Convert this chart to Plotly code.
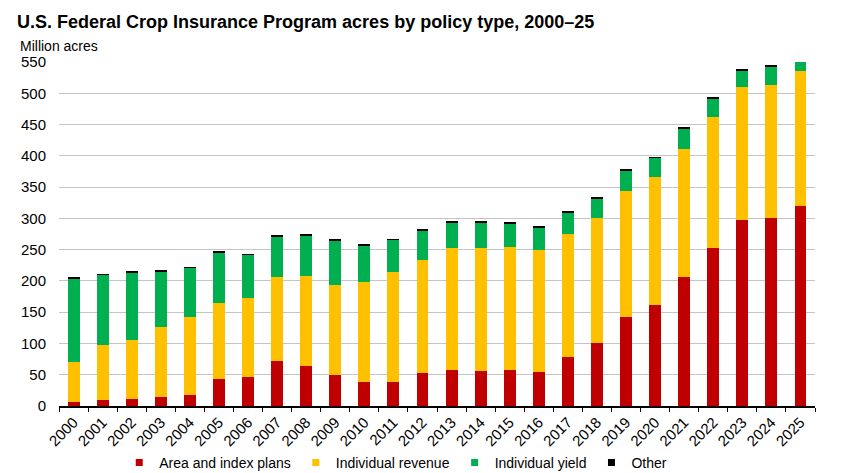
import plotly.graph_objects as go

years = [str(y) for y in range(2000, 2026)]

area_index = [6, 9, 11, 14, 18, 43, 46, 72, 64.5, 49, 38, 39, 53, 57.5, 56, 57.5, 55, 78,
              101, 142, 162, 206, 253, 297, 301, 320]
indiv_revenue = [65, 88, 94, 113, 125, 121, 127, 134, 143.5, 145, 161, 175, 180.5, 194.5, 197,
                 197.5, 194.5, 196.5, 199.5, 202, 203.6, 205.4, 209, 212.5, 213, 215]
indiv_yield = [133, 113, 108, 88, 78, 81, 69, 65, 65, 70, 57, 52, 47.5, 42, 40, 37, 35.5, 35.5,
               32, 33.3, 31, 31.6, 29, 27.5, 28, 15]
other = [1.5, 1, 2, 2.5, 1, 2, 1, 1, 1, 1.5, 1.5, 1, 1.5, 1.5, 1.5, 1.5, 1.5, 1.5, 2, 1.7,
         1.5, 1.5, 1.5, 1.8, 1.8, 1.5]

series = [
    ("Area and index plans", area_index, "#C00000"),
    ("Individual revenue", indiv_revenue, "#FFC000"),
    ("Individual yield", indiv_yield, "#00B050"),
    ("Other", other, "#000000"),
]

FONT = "Liberation Sans, Arial, sans-serif"

fig = go.Figure()
for name, vals, col in series:
    fig.add_trace(go.Bar(x=years, y=vals, name=name, marker=dict(color=col, line=dict(width=0)),
                         showlegend=False))
for name, vals, col in series:
    fig.add_trace(go.Scatter(x=[None], y=[None], mode="markers", name=name,
                             marker=dict(symbol="square", size=7, color=col)))

fig.update_layout(
    width=842, height=473,
    barmode="stack", bargap=0.59,
    paper_bgcolor="white", plot_bgcolor="white",
    margin=dict(l=59, r=27, t=62, b=67),
    font=dict(family=FONT, size=15, color="#000000"),
    title=dict(text="<b>U.S. Federal Crop Insurance Program acres by policy type, 2000–25</b>",
               x=17 / 842, xanchor="left", y=1 - 22 / 473, yanchor="middle",
               font=dict(size=18, family=FONT, color="#000000")),
    annotations=[dict(text="Million acres", xref="paper", yref="paper", x=-42 / 783, y=1 + 16 / 344,
                      xanchor="left", yanchor="middle", showarrow=False,
                      font=dict(size=14, family=FONT, color="#000000"))],
    legend=dict(orientation="h", x=0.47, xanchor="center", xref="container",
                y=10 / 473, yref="container", yanchor="middle",
                font=dict(size=14, family=FONT), itemwidth=30, traceorder="normal"),
)
fig.update_xaxes(type="category", showline=True, linecolor="#000000", linewidth=1.5,
                 ticks="outside", tickson="boundaries", ticklen=4, tickcolor="#000000",
                 tickwidth=1.2, tickangle=-45, showgrid=False, tickfont=dict(size=15),
                 automargin=False)
fig.update_yaxes(range=[0, 550], tickvals=list(range(0, 551, 50)), showgrid=True,
                 gridcolor="#c4c4c4", gridwidth=1.2, zeroline=False, showline=False,
                 ticks="", ticklabelstandoff=12, tickfont=dict(size=15), automargin=False)

fig.write_html("out.html", config={"displayModeBar": False},
               post_script="document.body.style.margin='0';")
